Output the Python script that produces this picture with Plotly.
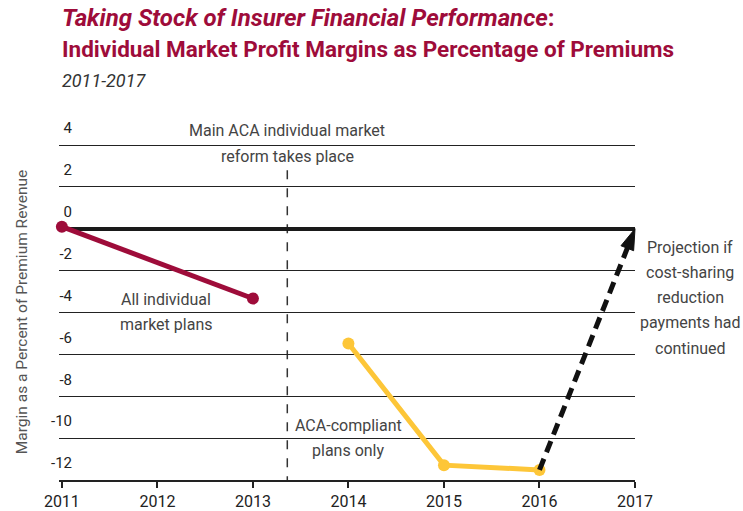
import plotly.graph_objects as go

years_all = [2011, 2013]
margin_all = [0.1, -3.33]
years_aca = [2014, 2015, 2016]
margin_aca = [-5.48, -11.29, -11.52]
years_proj = [2016, 2017]
margin_proj = [-11.52, 0.0]
reform_year = 2013.36
x_ticks = [2011, 2012, 2013, 2014, 2015, 2016, 2017]
y_ticks = [-12, -10, -8, -6, -4, -2, 0, 2, 4]

CRIMSON = "#9E0C3A"
YELLOW = "#FDC638"
FONT = "Roboto, Open Sans, sans-serif"

fig = go.Figure()
fig.add_trace(go.Scatter(x=years_all, y=margin_all, mode="lines+markers",
                         line=dict(color=CRIMSON, width=5),
                         marker=dict(color=CRIMSON, size=12), cliponaxis=False))
fig.add_trace(go.Scatter(x=years_aca, y=margin_aca, mode="lines+markers",
                         line=dict(color=YELLOW, width=5),
                         marker=dict(color=YELLOW, size=12), cliponaxis=False))
fig.add_trace(go.Scatter(x=years_proj, y=margin_proj, mode="lines+markers",
                         line=dict(color="#111", width=5, dash="12px,7px"),
                         marker=dict(color="#111", size=[13, 22], opacity=1,
                                     line=dict(color="#111", width=1),
                                     symbol=["circle", "arrow"], angleref="previous"),
                         cliponaxis=False))

fig.add_shape(type="line", x0=reform_year, x1=reform_year, y0=2.8, y1=-12,
              xref="x", yref="y", line=dict(color="#333", width=1.5, dash="dash"), layer="below")

H = 336
def py(px):
    return (480 - px) / H

def txt(x, ypx, text, size=16, color="#444", xref="x", xanchor="center", **kw):
    fig.add_annotation(x=x, y=py(ypx), xref=xref, yref="paper", text=text, showarrow=False,
                       xanchor=xanchor, yanchor="middle",
                       font=dict(family=FONT, size=size, color=color), **kw)

txt(2013.36, 131, "Main ACA individual market")
txt(2013.36, 156, "reform takes place")
txt(2012.09, 299, "All individual")
txt(2012.09, 324, "market plans")
txt(2014.0, 425, "ACA-compliant")
txt(2014.0, 450, "plans only")
for i, line in enumerate(["Projection if", "cost-sharing", "reduction", "payments had", "continued"]):
    txt(1.0957, 247 + 25.3 * i, line, xref="paper")

# title block
fig.add_annotation(x=0.002, y=py(18), xref="paper", yref="paper", xanchor="left", yanchor="middle",
                   text="<b><i>Taking Stock of Insurer Financial Performance</i>:</b>", showarrow=False,
                   font=dict(family=FONT, size=24, color=CRIMSON))
fig.add_annotation(x=0.002, y=py(49), xref="paper", yref="paper", xanchor="left", yanchor="middle",
                   text="<b>Individual Market Profit Margins as Percentage of Premiums</b>", showarrow=False,
                   font=dict(family=FONT, size=22.5, color=CRIMSON))
fig.add_annotation(x=0.002, y=py(80), xref="paper", yref="paper", xanchor="left", yanchor="middle",
                   text="<i>2011-2017</i>", showarrow=False,
                   font=dict(family=FONT, size=18, color="#333"))

fig.update_layout(
    width=743, height=511, margin=dict(l=59, r=108, t=144, b=31, autoexpand=False),
    paper_bgcolor="white", plot_bgcolor="white", showlegend=False,
    font=dict(family=FONT, color="#222"),
    xaxis=dict(range=[2010.97, 2017.0], tickvals=x_ticks, ticktext=[str(v) for v in x_ticks],
               showgrid=False, zeroline=False, showline=True, linecolor="#222", linewidth=1.5,
               ticks="outside", ticklen=6, tickcolor="#222", tickwidth=1.5, automargin=False,
               tickfont=dict(size=16, color="#222")),
    yaxis=dict(range=[-12, 4.05], tickvals=y_ticks, ticktext=[str(v) for v in y_ticks],
               showgrid=True, gridcolor="#222", gridwidth=1, automargin=False,
               zeroline=True, zerolinecolor="#1a1a1a", zerolinewidth=3.5,
               ticks="", ticklabelshift=-17, ticklabelstandoff=-14,
               tickfont=dict(size=15, color="#222"),
               title=dict(text="Margin as a Percent of Premium Revenue", standoff=19,
                          font=dict(size=15.5, color="#555"))),
)

fig.write_html("out.html", config={"displayModeBar": False},
               post_script="document.body.style.margin='0';document.body.style.overflow='hidden';")
